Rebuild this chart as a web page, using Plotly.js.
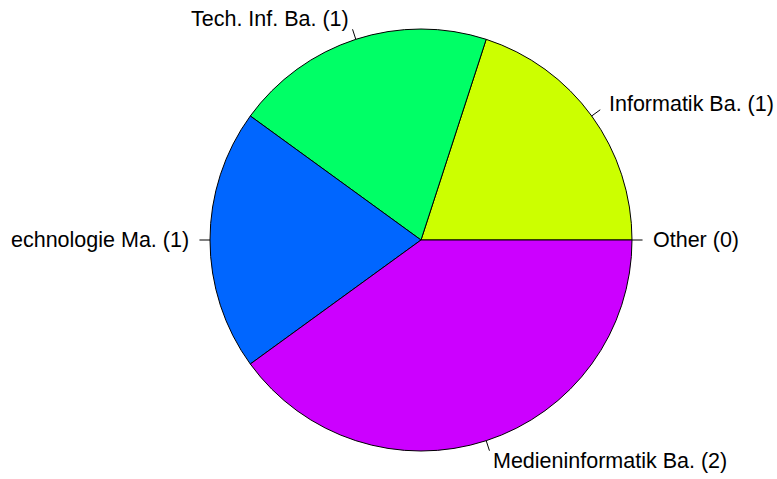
<!DOCTYPE html>
<html>
<head>
<meta charset="utf-8">
<script src="https://cdn.plot.ly/plotly-3.0.1.min.js"></script>
<style>html,body{margin:0;padding:0;background:#fff;}#chart{width:777px;height:479px;}</style>
</head>
<body>
<div id="chart"></div>
<script>
// Data
const labels = ["Other (0)", "Informatik Ba. (1)", "Tech. Inf. Ba. (1)", "echnologie Ma. (1)", "Medieninformatik Ba. (2)"];
const values = [0, 1, 1, 1, 2];
const colors = ["#FF0000", "#CCFF00", "#00FF66", "#0066FF", "#CC00FF"];

// Layout geometry (pixels)
const W = 777, H = 479;
const cx = 421, cy = 240, R = 211;

const px2x = p => p / W;
const py2y = p => 1 - p / H;

const total = values.reduce((a, b) => a + b, 0);
const annotations = [];
const shapes = [];
let cum = 0;
for (let i = 0; i < values.length; i++) {
  const mid = 2 * Math.PI * (cum + values[i] / 2) / total;
  cum += values[i];
  const c = Math.cos(mid), s = Math.sin(mid);
  shapes.push({
    type: "line", xref: "paper", yref: "paper",
    x0: px2x(cx + R * c), y0: py2y(cy - R * s),
    x1: px2x(cx + 1.05 * R * c), y1: py2y(cy - 1.05 * R * s),
    line: {color: "#000", width: 1}
  });
  annotations.push({
    xref: "paper", yref: "paper",
    x: px2x(cx + 1.1 * R * c), y: py2y(cy - 1.1 * R * s),
    text: labels[i], showarrow: false,
    xanchor: c < -1e-9 ? "right" : "left", yanchor: "middle",
    borderpad: 0, borderwidth: 0,
    font: {family: "Liberation Sans, Arial, sans-serif", size: 21.5, color: "#000"}
  });
}

const trace = {
  type: "pie",
  labels: labels,
  values: values,
  sort: false,
  direction: "counterclockwise",
  rotation: 90,
  textinfo: "none",
  hoverinfo: "skip",
  showlegend: false,
  marker: {colors: colors, line: {color: "#000", width: 1}},
  domain: {x: [px2x(cx - R), px2x(cx + R)], y: [py2y(cy + R), py2y(cy - R)]}
};

const layout = {
  width: W, height: H,
  margin: {l: 0, r: 0, t: 0, b: 0, pad: 0},
  paper_bgcolor: "#fff",
  plot_bgcolor: "#fff",
  showlegend: false,
  annotations: annotations,
  shapes: shapes
};

Plotly.newPlot("chart", [trace], layout, {staticPlot: true, displayModeBar: false});
</script>
</body>
</html>
